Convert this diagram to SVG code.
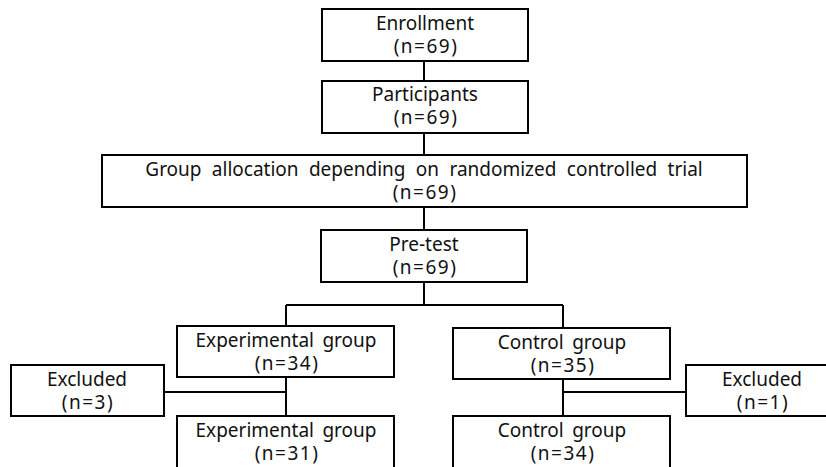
<svg xmlns="http://www.w3.org/2000/svg" width="826" height="467" viewBox="0 0 826 467">
<style>
.box{fill:#fff;stroke:#000;stroke-width:2}
.ln{stroke:#000;stroke-width:2;fill:none}
text{font-family:"Noto Sans","DejaVu Sans",sans-serif;font-size:19px;fill:#111;text-anchor:middle;word-spacing:3.5px}
.n{letter-spacing:1.5px}
.wide{word-spacing:5.4px}
</style>
<rect width="826" height="467" fill="#fff"/>
<g id="connectors">
<path class="ln" d="M424 61V80M424 133V155M424 207V230M424 282V305M286 305H563M286 305V326M563 305V328M286 377V416M164 392H286M563 379V416M563 392H686"/>
</g>
<g id="enrollment"><rect class="box" x="322" y="9" width="206" height="52"/><text x="425" y="29.5">Enrollment</text><text class="n" x="426" y="53">(n=69)</text></g>
<g id="participants"><rect class="box" x="322" y="81" width="206" height="52"/><text x="425" y="100.5">Participants</text><text class="n" x="426" y="124">(n=69)</text></g>
<g id="allocation"><rect class="box" x="102" y="155" width="645" height="52"/><text class="wide" x="424" y="175.5">Group allocation depending on randomized controlled trial</text><text class="n" x="425" y="199">(n=69)</text></g>
<g id="pretest"><rect class="box" x="321" y="230" width="206" height="52"/><text x="424" y="250.5">Pre-test</text><text class="n" x="425" y="274">(n=69)</text></g>
<g id="exp1"><rect class="box" x="177" y="326" width="217" height="51"/><text x="286" y="346.5">Experimental group</text><text class="n" x="287" y="370">(n=34)</text></g>
<g id="ctrl1"><rect class="box" x="453" y="328" width="217" height="51"/><text x="562" y="348.5">Control group</text><text class="n" x="563" y="372">(n=35)</text></g>
<g id="excl1"><rect class="box" x="11" y="365" width="153" height="51"/><text x="87" y="385.5">Excluded</text><text class="n" x="88" y="409">(n=3)</text></g>
<g id="excl2"><rect class="box" x="686" y="365" width="153" height="51"/><text x="762" y="385.5">Excluded</text><text class="n" x="763" y="409">(n=1)</text></g>
<g id="exp2"><rect class="box" x="177" y="416" width="217" height="53"/><text x="286" y="436.5">Experimental group</text><text class="n" x="287" y="460">(n=31)</text></g>
<g id="ctrl2"><rect class="box" x="453" y="416" width="217" height="53"/><text x="562" y="436.5">Control group</text><text class="n" x="563" y="460">(n=34)</text></g>
</svg>
